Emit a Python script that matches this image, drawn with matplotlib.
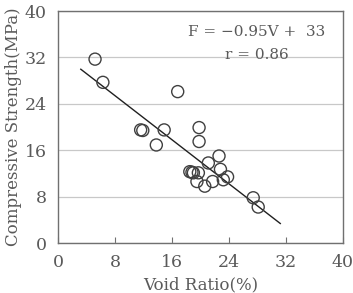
import matplotlib
matplotlib.use("Agg")
import matplotlib.pyplot as plt
import numpy as np

void_ratio = [5.2, 6.3, 16.8, 11.6, 11.9, 14.9, 13.8, 19.8, 19.8, 22.6, 21.1, 22.8,
              18.5, 18.8, 19.0, 19.7, 23.8, 23.2, 19.5, 21.7, 20.6, 27.4, 28.1]
strength = [31.7, 27.7, 26.1, 19.5, 19.4, 19.5, 16.9, 19.9, 17.5, 15.0, 13.8, 12.7,
            12.3, 12.2, 12.1, 12.1, 11.4, 10.9, 10.6, 10.6, 9.8, 7.8, 6.2]
slope, intercept = -0.95, 33
fit_x = [3.2, 31.2]
ticks = [0, 8, 16, 24, 32, 40]

plt.rcParams['font.family'] = ['DejaVu Serif']
txt = '#5a5a5a'

fig = plt.figure(figsize=(3.53, 2.93), dpi=100)
ax = fig.add_axes([58/353, 1-243/293, 285/353, 232/293])

ax.set_xlim(0, 40)
ax.set_ylim(0, 40)
ax.set_xticks(ticks)
ax.set_yticks(ticks)
ax.grid(axis='y', color='#c8c8c8', lw=0.9)
ax.set_axisbelow(True)

fx = np.array(fit_x)
ax.plot(fx, slope*fx + intercept, color='#202020', lw=1.0)
ax.scatter(void_ratio, strength, s=75, facecolors='none', edgecolors='#404040', linewidths=1.0, zorder=3)

for s in ax.spines.values():
    s.set_color('#707070')
    s.set_linewidth(1.0)
ax.tick_params(axis='x', direction='in', length=4, color='#707070', labelsize=12.5, labelcolor=txt, pad=8)
ax.tick_params(axis='y', length=0, labelsize=12.5, labelcolor=txt, pad=8)

ax.set_xlabel('Void Ratio(%)', fontsize=12, color=txt, labelpad=4)
ax.set_ylabel('Compressive Strength(MPa)', fontsize=12, color=txt, labelpad=2)

ax.text(27.9, 36.4, 'F = \u22120.95V +  33', ha='center', va='center', fontsize=11, color=txt)
ax.text(27.9, 32.4, 'r = 0.86', ha='center', va='center', fontsize=11, color=txt)

fig.savefig('out.png', dpi=100)
